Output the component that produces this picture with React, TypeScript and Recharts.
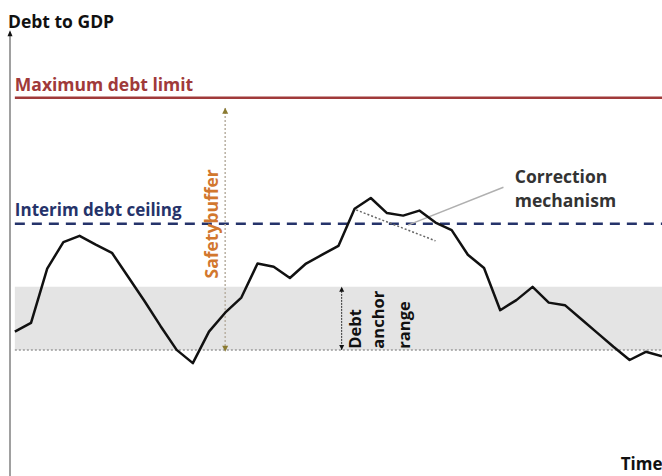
import {
  LineChart, Line, XAxis, YAxis, ReferenceLine, ReferenceArea, ReferenceDot,
} from 'recharts';

// time index and debt-to-GDP path
const periods = [
  0, 1, 2, 3, 4, 5, 6, 7, 8, 9, 10, 11, 12, 13, 14, 15, 16, 17, 18, 19, 20,
  21, 22, 23, 24, 25, 26, 27, 28, 29, 30, 31, 32, 33, 34, 35, 36, 37, 38, 39, 40,
];
const debtRatio = [
  22.9, 24.3, 32.9, 37.1, 38.1, 36.7, 35.4, 31.6, 27.8, 23.8, 20.0,
  17.9, 22.9, 25.9, 28.3, 33.7, 33.2, 31.4, 33.7, 35.1, 36.5,
  42.4, 44.1, 41.7, 41.3, 42.1, 40.2, 39.0, 35.1, 33.0, 26.3,
  27.9, 30.0, 27.5, 27.1, 24.9, 22.7, 20.5, 18.4, 19.7, 19.0,
];

const maxDebtLimit = 60;
const interimCeiling = 40;
const anchorRange = [20, 30];
const bufferAt = 13;
const anchorArrowAt = 20.2;

const data = periods.map((t, i) => ({ t, debt: debtRatio[i] }));

const FONT = '"Open Sans", "Noto Sans", sans-serif';

// text drawn at a data point (ReferenceDot shape)
const txt = (s: string, fill: string, opts: { rotate?: boolean; anchor?: string; size?: number; dx?: number } = {}) =>
  (p: any) => (
    <text
      x={p.cx + (opts.dx || 0)} y={p.cy}
      fill={fill}
      fontFamily={FONT}
      fontWeight={700}
      fontSize={opts.size || 17.5}
      textAnchor={opts.anchor || 'start'}
      transform={opts.rotate ? `rotate(-90 ${p.cx} ${p.cy})` : undefined}
    >
      {s}
    </text>
  );

const arrow = (fill: string, dir: 'up' | 'down', w = 3.5, h = 6) => (p: any) => {
  const { cx, cy } = p;
  const pts = dir === 'up'
    ? `${cx},${cy} ${cx - w},${cy + h} ${cx + w},${cy + h}`
    : `${cx},${cy} ${cx - w},${cy - h} ${cx + w},${cy - h}`;
  return <polygon points={pts} fill={fill} />;
};

export default function App() {
  return (
    <div style={{ position: 'absolute', left: 0, top: 0, width: 662, height: 476, background: '#fff' }}>
      <LineChart width={662} height={476} data={data} margin={{ top: 0, right: 0, bottom: 0, left: 10 }}>
        <XAxis dataKey="t" type="number" domain={[-0.3, 40]} hide />
        <YAxis type="number" domain={[0, 75.5]} hide />

        {/* debt anchor range band */}
        <ReferenceArea x1={0} x2={40} y1={anchorRange[0]} y2={anchorRange[1]} fill="#e4e4e4" fillOpacity={1} stroke="none" />
        <ReferenceLine segment={[{ x: 0, y: anchorRange[0] }, { x: 40, y: anchorRange[0] }]} stroke="#9a9a9a" strokeWidth={1.5} strokeDasharray="2 2" />

        {/* y axis with arrow */}
        <ReferenceLine segment={[{ x: -0.3, y: 0 }, { x: -0.3, y: 70 }]} stroke="#a0a0a0" strokeWidth={2} />
        <ReferenceDot x={-0.3} y={70.7} r={0} shape={arrow('#111', 'up', 2.5, 6)} />
        <ReferenceDot x={-0.3} y={71.0} r={0} ifOverflow="visible" shape={txt('Debt to GDP', '#111', { size: 17.5, dx: -2 })} />
        <ReferenceDot x={37.45} y={1} r={0} shape={txt('Time', '#111', { size: 17 })} />

        {/* limits */}
        <ReferenceLine segment={[{ x: 0, y: maxDebtLimit }, { x: 40, y: maxDebtLimit }]} stroke="#a03a3a" strokeWidth={2.5} />
        <ReferenceDot x={0} y={61} r={0} shape={txt('Maximum debt limit', '#a03a3a')} />
        <ReferenceLine segment={[{ x: 0, y: interimCeiling }, { x: 40, y: interimCeiling }]} stroke="#25336a" strokeWidth={2.5} strokeDasharray="10 7" />
        <ReferenceDot x={0} y={41.2} r={0} shape={txt('Interim debt ceiling', '#25336a', { size: 17 })} />

        {/* safety buffer */}
        <ReferenceLine segment={[{ x: bufferAt, y: anchorRange[0] }, { x: bufferAt, y: 58.4 }]} stroke="#b9b0a2" strokeWidth={1.5} strokeDasharray="2 2" />
        <ReferenceDot x={bufferAt} y={58.4} r={0} shape={arrow('#8a7a30', 'up', 3, 6)} />
        <ReferenceDot x={bufferAt} y={19.7} r={0} shape={arrow('#8a7a30', 'down', 3, 6)} />
        <ReferenceDot x={12.55} y={40} r={0} shape={txt('Safetybuffer', '#d2772e', { rotate: true, anchor: 'middle' })} />

        {/* debt anchor range arrow + label */}
        <ReferenceLine segment={[{ x: anchorArrowAt, y: anchorRange[0] }, { x: anchorArrowAt, y: anchorRange[1] }]} stroke="#333" strokeWidth={1} strokeDasharray="2 1" />
        <ReferenceDot x={anchorArrowAt} y={30} r={0} shape={arrow('#111', 'up', 2.5, 5)} />
        <ReferenceDot x={anchorArrowAt} y={20} r={0} shape={arrow('#111', 'down', 2.5, 5)} />
        <ReferenceDot x={21.4} y={20.2} r={0} shape={txt('Debt', '#111', { rotate: true, size: 16.5 })} />
        <ReferenceDot x={22.8} y={20.2} r={0} shape={txt('anchor', '#111', { rotate: true, size: 16.5 })} />
        <ReferenceDot x={24.4} y={20.2} r={0} shape={txt('range', '#111', { rotate: true, size: 16.5 })} />

        {/* correction mechanism */}
        <ReferenceLine segment={[{ x: 21.1, y: 42.2 }, { x: 26.0, y: 37.3 }]} stroke="#666" strokeWidth={1.5} strokeDasharray="2 2" />
        <ReferenceLine segment={[{ x: 30.2, y: 45.8 }, { x: 24.3, y: 39.8 }]} stroke="#b0b0b0" strokeWidth={1.5} />
        <ReferenceDot x={30.9} y={46.5} r={0} shape={txt('Correction', '#333')} />
        <ReferenceDot x={30.9} y={42.7} r={0} shape={txt('mechanism', '#333')} />

        <Line
          dataKey="debt" type="linear"
          stroke="#111" strokeWidth={2.5} strokeLinejoin="round"
          dot={false} activeDot={false}
          isAnimationActive={false}
        />
      </LineChart>
    </div>
  );
}
